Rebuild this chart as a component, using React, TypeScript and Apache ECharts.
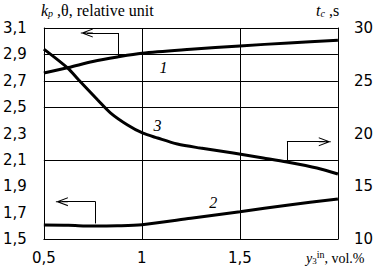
import React, { useEffect, useRef } from 'react';
import * as echarts from 'echarts';

// x axis: y3^in, vol.%
const xTickLabels = ['0,5', '1', '1,5', ''];
// left axis k_p, θ (relative unit)
const kTickLabels = ['1,5', '1,7', '1,9', '2,1', '2,3', '2,5', '2,7', '2,9', '3,1'];
const kGridValues = [3.1, 2.9, 2.7, 2.5, 2.1];
// right axis t_c, s
const tMin = 10;
const tMax = 30;

// curve 1 (left axis)
const curve1X = [0.5, 0.625, 0.75, 0.875, 1.0, 1.25, 1.5, 1.75, 2.0];
const curve1K = [2.759, 2.80, 2.846, 2.88, 2.908, 2.938, 2.964, 2.987, 3.007];
// curve 2 (left axis)
const curve2X = [0.5, 0.625, 0.75, 0.875, 1.0, 1.25, 1.5, 1.75, 2.0];
const curve2K = [1.606, 1.604, 1.598, 1.600, 1.608, 1.657, 1.707, 1.758, 1.803];
// curve 3 (right axis)
const curve3X = [0.5, 0.622, 0.678, 0.775, 0.841, 0.927, 1.003, 1.08, 1.181, 1.298, 1.466, 1.619, 1.74, 1.893, 2.0];
const curve3T = [28.0, 26.2, 25.07, 23.18, 21.94, 20.81, 20.05, 19.57, 19.0, 18.62, 18.15, 17.68, 17.3, 16.73, 16.16];

const kMin = 1.5;
const kStep = 0.2;
const toStep = (k: number) => (k - kMin) / kStep;

const chevron =
  'path://M5,0 L10,12 L8.8,12 L5,3 L1.2,12 L0,12 Z M4.5,0 L5.5,0 L5.5,12 L4.5,12 Z';

const serif = 'Liberation Serif';
const sans = 'DejaVu Sans';

export default function App() {
  const ref = useRef<HTMLDivElement>(null);
  useEffect(() => {
    if (!ref.current) return;
    const chart = echarts.init(ref.current, undefined, { renderer: 'svg' });
    const lineStyleThin = { color: '#000', width: 1, type: 'solid' as const };
    const arrowSeg = (a: number[], b: number[], withHead: boolean) => [
      { coord: a, symbol: 'none' },
      withHead
        ? { coord: b, symbol: chevron, symbolSize: [9, 12] }
        : { coord: b, symbol: 'none' },
    ];
    const curveLabel = (text: string) => ({
      show: true,
      position: 'inside',
      color: '#000',
      fontFamily: serif,
      fontStyle: 'italic',
      fontSize: 16,
      formatter: text,
    });
    const option: any = {
      animation: false,
      backgroundColor: '#fff',
      grid: { left: 43, right: 38, top: 28, bottom: 40, containLabel: false },
      xAxis: {
        type: 'value',
        min: 0.5,
        max: 2,
        interval: 0.5,
        axisLine: { show: true, lineStyle: { color: '#000', width: 1 } },
        axisTick: { show: false },
        splitLine: { show: true, lineStyle: { color: '#000', width: 1 } },
        axisLabel: {
          color: '#000',
          fontFamily: sans,
          fontSize: 15,
          margin: 11,
          formatter: (v: number) => xTickLabels[Math.round((v - 0.5) / 0.5)] ?? '',
        },
      },
      yAxis: [
        {
          type: 'value',
          min: 0,
          max: 8,
          interval: 1,
          position: 'left',
          axisLine: { show: true, lineStyle: { color: '#000', width: 1 } },
          axisTick: { show: false },
          splitLine: { show: false },
          axisLabel: {
            color: '#000',
            fontFamily: sans,
            fontSize: 15,
            margin: 17,
            formatter: (v: number) => kTickLabels[Math.round(v)] ?? '',
          },
        },
        {
          type: 'value',
          min: tMin,
          max: tMax,
          interval: 5,
          position: 'right',
          axisLine: { show: true, lineStyle: { color: '#000', width: 1 } },
          axisTick: { show: false },
          splitLine: { show: false },
          axisLabel: {
            color: '#000',
            fontFamily: sans,
            fontSize: 15,
            margin: 16,
          },
        },
      ],
      series: [
        {
          type: 'line',
          yAxisIndex: 0,
          data: curve1X.map((x, i) => [x, toStep(curve1K[i])]),
          smooth: 0.3,
          symbol: 'none',
          lineStyle: { color: '#000', width: 3 },
          z: 5,
          markLine: {
            silent: true,
            symbol: 'none',
            label: { show: false },
            lineStyle: lineStyleThin,
            data: [
              ...kGridValues.map((k) => ({ yAxis: toStep(k) })),
              arrowSeg([0.881, toStep(2.88)], [0.881, toStep(3.062)], false),
              arrowSeg([0.881, toStep(3.062)], [0.719, toStep(3.062)], true),
            ],
          },
          markPoint: {
            silent: true,
            symbol: 'circle',
            symbolSize: 1,
            itemStyle: { color: 'rgba(0,0,0,0)' },
            label: curveLabel('1'),
            data: [{ coord: [1.11, toStep(2.797)] }],
          },
        },
        {
          type: 'line',
          yAxisIndex: 0,
          data: curve2X.map((x, i) => [x, toStep(curve2K[i])]),
          smooth: 0.3,
          symbol: 'none',
          lineStyle: { color: '#000', width: 3 },
          z: 5,
          markLine: {
            silent: true,
            symbol: 'none',
            label: { show: false },
            lineStyle: lineStyleThin,
            data: [
              arrowSeg([0.764, toStep(1.618)], [0.764, toStep(1.783)], false),
              arrowSeg([0.764, toStep(1.783)], [0.592, toStep(1.783)], true),
            ],
          },
          markPoint: {
            silent: true,
            symbol: 'circle',
            symbolSize: 1,
            itemStyle: { color: 'rgba(0,0,0,0)' },
            label: curveLabel('2'),
            data: [{ coord: [1.364, toStep(1.78)] }],
          },
        },
        {
          type: 'line',
          yAxisIndex: 1,
          data: curve3X.map((x, i) => [x, curve3T[i]]),
          smooth: 0.3,
          symbol: 'none',
          lineStyle: { color: '#000', width: 3 },
          z: 5,
          markLine: {
            silent: true,
            symbol: 'none',
            label: { show: false },
            lineStyle: lineStyleThin,
            data: [
              arrowSeg([1.74, 17.3], [1.74, 19.22], false),
              arrowSeg([1.74, 19.22], [1.933, 19.22], true),
            ],
          },
          markPoint: {
            silent: true,
            symbol: 'circle',
            symbolSize: 1,
            itemStyle: { color: 'rgba(0,0,0,0)' },
            label: curveLabel('3'),
            data: [{ coord: [1.08, 20.8] }],
          },
        },
      ],
      graphic: [
        {
          type: 'text',
          left: 41,
          top: 2,
          style: {
            text: '{k|k}{p|p}{n| ,θ, relative unit}',
            fill: '#000',
            rich: {
              k: { fontFamily: serif, fontStyle: 'italic', fontSize: 16, fill: '#000' },
              p: { fontFamily: serif, fontStyle: 'italic', fontSize: 10, fill: '#000', padding: [6, 0, 0, 0] },
              n: { fontFamily: serif, fontSize: 16, fill: '#000' },
            },
          },
        },
        {
          type: 'text',
          left: 316,
          top: 2,
          style: {
            text: '{k|t}{p|c}{n| ,s}',
            fill: '#000',
            rich: {
              k: { fontFamily: serif, fontStyle: 'italic', fontSize: 16, fill: '#000' },
              p: { fontFamily: serif, fontStyle: 'italic', fontSize: 10, fill: '#000', padding: [6, 0, 0, 0] },
              n: { fontFamily: serif, fontSize: 16, fill: '#000' },
            },
          },
        },
        {
          type: 'text',
          left: 306,
          top: 249,
          style: {
            text: '{k|y}{s|3}{u|in}{n|, vol.%}',
            fill: '#000',
            rich: {
              k: { fontFamily: serif, fontStyle: 'italic', fontSize: 14, fill: '#000' },
              s: { fontFamily: serif, fontSize: 9, fill: '#000', padding: [6, 0, 0, 0] },
              u: { fontFamily: serif, fontSize: 10, fill: '#000', padding: [0, 0, 8, 0] },
              n: { fontFamily: serif, fontSize: 14, fill: '#000' },
            },
          },
        },
      ],
    };
    chart.setOption(option);
    return () => chart.dispose();
  }, []);
  return <div ref={ref} style={{ width: 376, height: 279, position: 'absolute', left: 0, top: 0 }} />;
}
